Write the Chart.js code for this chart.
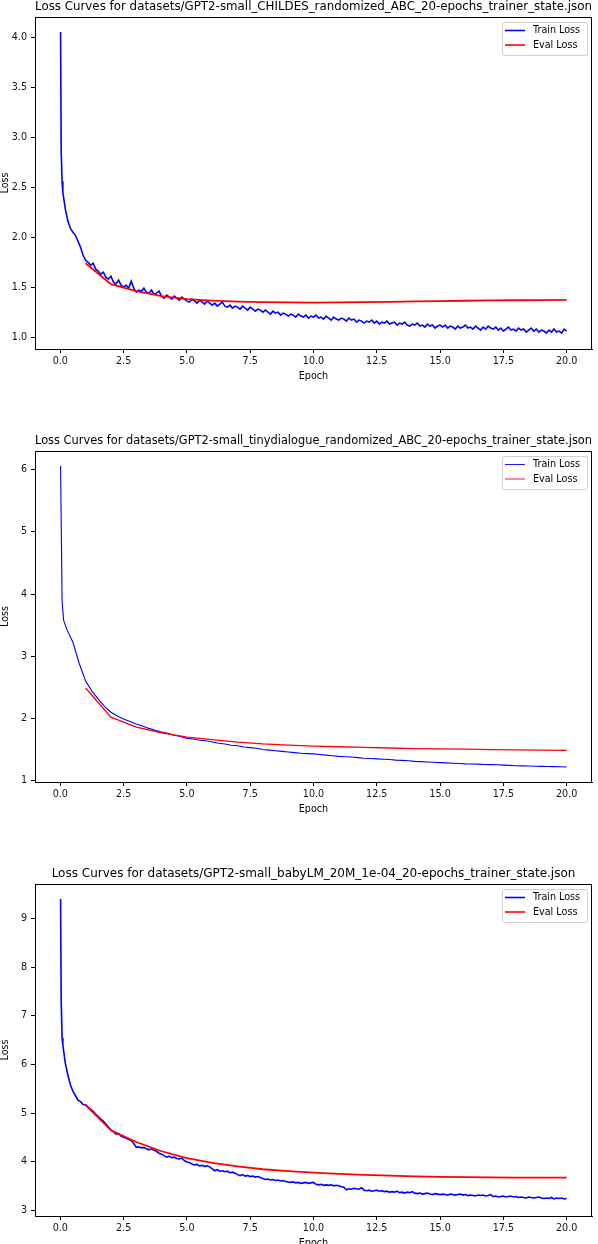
<!DOCTYPE html>
<html>
<head>
<meta charset="utf-8">
<script src="https://cdn.jsdelivr.net/npm/chart.js@4.4.1/dist/chart.umd.min.js"></script>
<style>
  body { margin: 0; background: #fff; width: 598px; height: 1244px; overflow: hidden; position: relative; }
  .panel { position: absolute; left: 0; width: 598px; }
</style>
</head>
<body>
<div class="panel" style="top:0;height:384px"><canvas id="childesChart"></canvas></div>
<div class="panel" style="top:434px;height:383px"><canvas id="tinyChart"></canvas></div>
<div class="panel" style="top:867px;height:384px"><canvas id="babyChart"></canvas></div>
<script>
// ---- Shared axis data ----
const xTicks = [0, 2.5, 5, 7.5, 10, 12.5, 15, 17.5, 20];
const evalEpochs = [1, 2, 3, 4, 5, 6, 7, 8, 9, 10, 11, 12, 13, 14, 15, 16, 17, 18, 19, 20];

// ---- CHILDES ----
const childesTitle = 'Loss Curves for datasets/GPT2-small_CHILDES_randomized_ABC_20-epochs_trainer_state.json';
const childesYTicks = [1.0, 1.5, 2.0, 2.5, 3.0, 3.5, 4.0];
const childesHeadEpochs = [0.01, 0.035, 0.07];
const childesHeadLoss = [4.06, 2.85, 2.56];
const childesTrainStep = 0.1;
const childesTrainLoss = [
  2.45, 2.28, 2.16, 2.09, 2.05, 2.02, 1.96, 1.90, 1.82, 1.77,
  1.75, 1.72, 1.74, 1.68, 1.66, 1.63, 1.65, 1.60, 1.58, 1.61,
  1.55, 1.53, 1.57, 1.52, 1.50, 1.52, 1.49, 1.56, 1.49, 1.45,
  1.47, 1.46, 1.49, 1.45, 1.44, 1.47, 1.43, 1.44, 1.46, 1.41,
  1.39, 1.42, 1.40, 1.38, 1.41, 1.39, 1.37, 1.40, 1.38, 1.36,
  1.35, 1.38, 1.36, 1.34, 1.37, 1.35, 1.33, 1.36, 1.34, 1.32,
  1.34, 1.31, 1.33, 1.35, 1.31, 1.30, 1.32, 1.29, 1.31, 1.30,
  1.28, 1.31, 1.29, 1.27, 1.30, 1.28, 1.26, 1.28, 1.27, 1.25,
  1.27, 1.25, 1.23, 1.26, 1.24, 1.25, 1.22, 1.24, 1.23, 1.21,
  1.23, 1.22, 1.20, 1.23, 1.21, 1.20, 1.22, 1.19, 1.21, 1.20,
  1.22, 1.19, 1.20, 1.18, 1.21, 1.19, 1.17, 1.20, 1.18, 1.17,
  1.19, 1.18, 1.16, 1.19, 1.17, 1.18, 1.15, 1.17, 1.16, 1.14,
  1.16, 1.15, 1.17, 1.14, 1.16, 1.13, 1.15, 1.14, 1.16, 1.13,
  1.14, 1.15, 1.12, 1.14, 1.13, 1.15, 1.12, 1.11, 1.13, 1.12,
  1.14, 1.11, 1.12, 1.10, 1.13, 1.11, 1.12, 1.09, 1.11, 1.12,
  1.10, 1.12, 1.09, 1.11, 1.10, 1.08, 1.11, 1.09, 1.10, 1.12,
  1.09, 1.10, 1.08, 1.11, 1.09, 1.07, 1.10, 1.08, 1.11, 1.09,
  1.08, 1.10, 1.07, 1.09, 1.06, 1.08, 1.10, 1.07, 1.08, 1.06,
  1.09, 1.07, 1.08, 1.05, 1.07, 1.09, 1.06, 1.08, 1.05, 1.07,
  1.06, 1.04, 1.07, 1.05, 1.08, 1.05, 1.06, 1.04, 1.08, 1.06
];
const childesEvalLoss = [1.74, 1.53, 1.46, 1.41, 1.38, 1.365, 1.355, 1.35, 1.347, 1.345,
  1.347, 1.35, 1.353, 1.357, 1.36, 1.364, 1.367, 1.369, 1.371, 1.372];

// ---- tinydialogue ----
const tinyTitle = 'Loss Curves for datasets/GPT2-small_tinydialogue_randomized_ABC_20-epochs_trainer_state.json';
const tinyYTicks = [1, 2, 3, 4, 5, 6];
const tinyHeadEpochs = [0.01, 0.07, 0.13];
const tinyHeadLoss = [6.06, 3.88, 3.58];
const tinyTrainStep = 0.25;
const tinyTrainLoss = [
  3.44, 3.22, 2.88, 2.60, 2.44, 2.31, 2.19, 2.10, 2.04, 1.99, 1.95, 1.91, 1.88, 1.84, 1.81, 1.78, 1.76, 1.73, 1.71, 1.68,
  1.67, 1.65, 1.64, 1.62, 1.60, 1.59, 1.57, 1.56, 1.54, 1.53, 1.52, 1.50, 1.49, 1.48, 1.47, 1.46, 1.45, 1.44, 1.435, 1.43,
  1.42, 1.41, 1.40, 1.39, 1.385, 1.38, 1.37, 1.36, 1.355, 1.35, 1.345, 1.34, 1.33, 1.325, 1.32, 1.31, 1.305, 1.30, 1.295, 1.29,
  1.285, 1.28, 1.275, 1.27, 1.268, 1.265, 1.26, 1.258, 1.255, 1.25, 1.245, 1.24, 1.238, 1.235, 1.232, 1.23, 1.228, 1.225, 1.222, 1.22
];
const tinyEvalLoss = [2.49, 2.02, 1.86, 1.77, 1.70, 1.66, 1.62, 1.59, 1.57, 1.555,
  1.545, 1.535, 1.525, 1.515, 1.51, 1.505, 1.50, 1.495, 1.49, 1.488];

// ---- babyLM ----
const babyTitle = 'Loss Curves for datasets/GPT2-small_babyLM_20M_1e-04_20-epochs_trainer_state.json';
const babyYTicks = [3, 4, 5, 6, 7, 8, 9];
const babyHeadEpochs = [0.01, 0.035, 0.07];
const babyHeadLoss = [9.40, 7.3, 6.55];
const babyTrainStep = 0.1;
const babyTrainLoss = [
  6.40, 6.02, 5.78, 5.58, 5.45, 5.36, 5.27, 5.24, 5.18, 5.17,
  5.12, 5.08, 5.04, 4.98, 4.93, 4.88, 4.84, 4.78, 4.72, 4.66,
  4.62, 4.57, 4.58, 4.53, 4.51, 4.49, 4.46, 4.44, 4.38, 4.30,
  4.31, 4.29, 4.30, 4.27, 4.25, 4.27, 4.24, 4.22, 4.18, 4.16,
  4.13, 4.10, 4.12, 4.09, 4.10, 4.07, 4.06, 4.08, 4.03, 4.00,
  3.99, 3.96, 3.94, 3.95, 3.92, 3.93, 3.91, 3.92, 3.90, 3.86,
  3.82, 3.84, 3.81, 3.82, 3.80, 3.81, 3.78, 3.79, 3.77, 3.74,
  3.72, 3.74, 3.71, 3.72, 3.70, 3.71, 3.69, 3.70, 3.68, 3.66,
  3.64, 3.65, 3.63, 3.64, 3.62, 3.63, 3.61, 3.62, 3.60, 3.59,
  3.58, 3.59, 3.57, 3.58, 3.56, 3.57, 3.58, 3.56, 3.57, 3.58,
  3.54, 3.53, 3.54, 3.52, 3.53, 3.52, 3.53, 3.51, 3.52, 3.51,
  3.49, 3.48, 3.43, 3.45, 3.44, 3.46, 3.45, 3.44, 3.47, 3.42,
  3.41, 3.42, 3.40, 3.41, 3.42, 3.40, 3.41, 3.39, 3.40, 3.38,
  3.39, 3.38, 3.40, 3.37, 3.38, 3.36, 3.38, 3.37, 3.39, 3.36,
  3.35, 3.36, 3.34, 3.35, 3.36, 3.34, 3.33, 3.35, 3.34, 3.33,
  3.34, 3.33, 3.32, 3.34, 3.33, 3.32, 3.33, 3.34, 3.32, 3.33,
  3.31, 3.32, 3.31, 3.30, 3.32, 3.31, 3.32, 3.30, 3.31, 3.33,
  3.29, 3.30, 3.28, 3.29, 3.30, 3.28, 3.29, 3.30, 3.28, 3.29,
  3.27, 3.28, 3.27, 3.26, 3.28, 3.27, 3.26, 3.27, 3.28, 3.26,
  3.25, 3.26, 3.25, 3.27, 3.24, 3.26, 3.25, 3.26, 3.24, 3.25
];
const babyEvalLoss = [5.17, 4.65, 4.41, 4.22, 4.08, 3.98, 3.91, 3.85, 3.81, 3.78,
  3.755, 3.735, 3.72, 3.705, 3.695, 3.69, 3.685, 3.68, 3.68, 3.68];

const FONT = '"DejaVu Sans", "Liberation Sans", sans-serif';

// frame around the axes + matplotlib-style legend box in the top right
const frameLegend = {
  id: 'frameLegend',
  afterDatasetsDraw(chart) {
    const { ctx, chartArea: a } = chart;
    ctx.save();
    ctx.strokeStyle = '#000';
    ctx.lineWidth = 1;
    ctx.strokeRect(Math.round(a.left) + 0.5, Math.round(a.top) + 0.5, Math.round(a.right - a.left) - 1, Math.round(a.bottom - a.top));

    const w = 85, h = 33;
    const x = Math.round(a.right) - 5 - w, y = Math.round(a.top) + 5;
    ctx.fillStyle = 'rgba(255,255,255,0.8)';
    ctx.strokeStyle = '#d0d0d0';
    ctx.beginPath();
    ctx.roundRect(x + 0.5, y + 0.5, w, h, 2);
    ctx.fill();
    ctx.stroke();
    ctx.font = '9.6px ' + FONT;
    ctx.textBaseline = 'middle';
    chart.data.datasets.forEach((ds, i) => {
      const ly = y + 8.5 + i * 14.5;
      ctx.strokeStyle = ds.borderColor;
      ctx.lineWidth = ds.legendWidth;
      ctx.beginPath();
      ctx.moveTo(x + 3, ly);
      ctx.lineTo(x + 23, ly);
      ctx.stroke();
      ctx.fillStyle = '#000';
      ctx.fillText(ds.label, x + 31, ly);
    });
    ctx.restore();
  }
};

function toPoints(xs, ys) {
  return xs.map((x, i) => ({ x: x, y: ys[i] }));
}

function trainPoints(headX, headY, step, values) {
  const pts = toPoints(headX, headY);
  values.forEach((v, i) => pts.push({ x: +(step * (i + 1)).toFixed(3), y: v }));
  return pts;
}

function makeChart(id, opts) {
  new Chart(document.getElementById(id), {
    type: 'line',
    data: {
      datasets: [
        { label: 'Train Loss', data: opts.train, borderColor: '#0000ff', borderWidth: opts.lw, legendWidth: opts.legendLw, pointRadius: 0, tension: 0, order: 1 },
        { label: 'Eval Loss', data: opts.eval, borderColor: '#ff0000', borderWidth: opts.lw + 0.2, legendWidth: opts.legendLw, pointRadius: 0, tension: 0, order: 0 }
      ]
    },
    options: {
      responsive: true,
      maintainAspectRatio: false,
      animation: false,
      events: [],
      layout: { padding: { left: 0, right: 6, top: 0, bottom: 0 } },
      plugins: {
        legend: { display: false },
        tooltip: { enabled: false },
        title: {
          display: true, text: opts.title, fullSize: false, color: '#000',
          font: { family: FONT, size: 12, weight: 'normal' },
          padding: { top: 0, bottom: 2.6 }
        }
      },
      scales: {
        x: {
          type: 'linear', min: -1, max: 21,
          afterBuildTicks: s => { s.ticks = xTicks.map(v => ({ value: v })); },
          afterFit: s => { s.height = 35; },
          ticks: { color: '#111', font: { family: FONT, size: 9.6 }, padding: 3, maxRotation: 0, callback: v => v.toFixed(1) },
          grid: { drawOnChartArea: false, drawTicks: true, tickLength: 4, color: '#000' },
          border: { display: true, color: '#000' },
          title: { display: true, text: 'Epoch', color: '#000', font: { family: FONT, size: 9.6 }, padding: { top: 0, bottom: 2 } }
        },
        y: {
          type: 'linear', min: opts.yMin, max: opts.yMax,
          afterBuildTicks: s => { s.ticks = opts.yTicks.map(v => ({ value: v })); },
          afterFit: s => { s.width = 35; },
          ticks: { color: '#111', font: { family: FONT, size: 9.6 }, padding: 4, callback: v => v.toFixed(opts.dec) },
          grid: { drawOnChartArea: false, drawTicks: true, tickLength: 4, color: '#000' },
          border: { display: true, color: '#000' },
          title: { display: true, text: 'Loss', color: '#000', font: { family: FONT, size: 9.6 }, padding: { top: 0, bottom: 0 } }
        }
      }
    },
    plugins: [frameLegend]
  });
}

makeChart('childesChart', {
  title: childesTitle, yMin: 0.88, yMax: 4.21, yTicks: childesYTicks, dec: 1, lw: 1.6, legendLw: 1.6,
  train: trainPoints(childesHeadEpochs, childesHeadLoss, childesTrainStep, childesTrainLoss),
  eval: toPoints(evalEpochs, childesEvalLoss)
});
makeChart('tinyChart', {
  title: tinyTitle, yMin: 0.978, yMax: 6.3, yTicks: tinyYTicks, dec: 0, lw: 1.1, legendLw: 0.9,
  train: trainPoints(tinyHeadEpochs, tinyHeadLoss, tinyTrainStep, tinyTrainLoss),
  eval: toPoints(evalEpochs, tinyEvalLoss)
});
makeChart('babyChart', {
  title: babyTitle, yMin: 2.89, yMax: 9.71, yTicks: babyYTicks, dec: 0, lw: 1.6, legendLw: 1.6,
  train: trainPoints(babyHeadEpochs, babyHeadLoss, babyTrainStep, babyTrainLoss),
  eval: toPoints(evalEpochs, babyEvalLoss)
});
</script>
</body>
</html>
